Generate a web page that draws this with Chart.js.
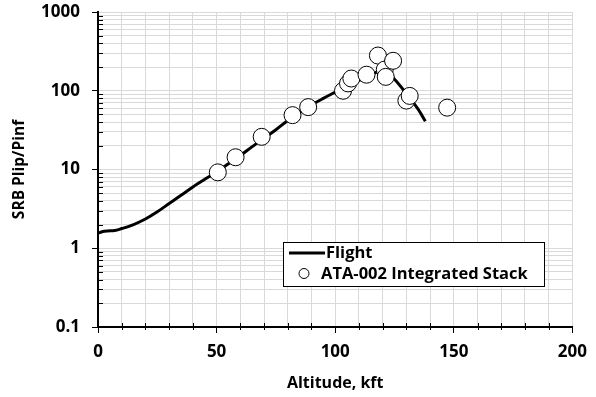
<!DOCTYPE html>
<html>
<head>
<meta charset="utf-8">
<script src="https://cdn.jsdelivr.net/npm/chart.js@4"></script>
<style>
  html, body { margin: 0; padding: 0; background: #fff; }
  #wrap { width: 596px; height: 397px; }
</style>
</head>
<body>
<div id="wrap"><canvas id="plipChart" width="596" height="397"></canvas></div>
<script>
// flight trace
const flightAlt = [0, 2, 4, 7, 10, 15, 20, 25, 30, 35, 40, 45, 50, 55, 60, 65, 70, 75, 80, 85, 90, 95, 100, 105, 110, 115, 118, 120, 122, 125, 130, 135, 138];
const flightPlip = [1.55, 1.63, 1.66, 1.68, 1.78, 2.0, 2.35, 2.9, 3.7, 4.7, 6.0, 7.5, 9.3, 11.8, 15, 19.5, 25, 32, 42, 53, 66, 80, 96, 115, 135, 158, 175, 180, 170, 140, 92, 58, 41];

// ATA-002 integrated stack test points
const ataAlt = [50.5, 58, 69, 82, 88.6, 103.3, 105.4, 106.8, 113.2, 118, 120.9, 121.3, 124.4, 130, 131.4, 147.2];
const ataPlip = [9.2, 14.3, 26, 49, 62, 100, 124, 143, 160, 280, 186, 150, 240, 75, 86, 61];

const yTickValues = [];
[0.1, 1, 10, 100].forEach((decade) => {
  for (let m = 1; m < 10; m++) yTickValues.push(+(decade * m).toPrecision(3));
});
yTickValues.push(1000);

const FONT = '"Open Sans", sans-serif';

function isDecade(v) {
  const l = Math.log10(v);
  return Math.abs(l - Math.round(l)) < 1e-6;
}

const minorTicks = {
  id: 'minorTicks',
  afterDatasetsDraw(chart) {
    const { ctx, chartArea, scales } = chart;
    ctx.save();
    ctx.strokeStyle = '#000';
    ctx.lineWidth = 1;
    yTickValues.forEach((v) => {
      if (isDecade(v)) return;
      const y = Math.round(scales.y.getPixelForValue(v)) + 0.5;
      ctx.beginPath();
      ctx.moveTo(chartArea.left, y);
      ctx.lineTo(chartArea.left + 5, y);
      ctx.stroke();
    });
    for (let a = 10; a < 200; a += 10) {
      if (a % 50 === 0) continue;
      const x = Math.round(scales.x.getPixelForValue(a)) + 0.5;
      ctx.beginPath();
      ctx.moveTo(x, chartArea.bottom - 4);
      ctx.lineTo(x, chartArea.bottom + 3);
      ctx.stroke();
    }
    ctx.restore();
  },
};

const boxLegend = {
  id: 'boxLegend',
  afterDraw(chart) {
    const ctx = chart.ctx;
    ctx.save();
    ctx.fillStyle = '#fff';
    ctx.fillRect(283, 242, 261, 44);
    ctx.strokeStyle = '#000';
    ctx.lineWidth = 1;
    ctx.strokeRect(283.5, 242.5, 261, 44);

    ctx.lineWidth = 3;
    ctx.beginPath();
    ctx.moveTo(289, 253);
    ctx.lineTo(325, 253);
    ctx.stroke();

    ctx.lineWidth = 1;
    ctx.beginPath();
    ctx.arc(304, 273.5, 5, 0, Math.PI * 2);
    ctx.stroke();

    ctx.fillStyle = '#000';
    ctx.font = `bold 16.5px ${FONT}`;
    ctx.textBaseline = 'middle';
    ctx.fillText('Flight', 326, 253);
    ctx.fillText('ATA-002 Integrated Stack', 321, 274);
    ctx.restore();
  },
};

function renderChart() {
  const ctx = document.getElementById('plipChart');
  new Chart(ctx, {
    data: {
      datasets: [
        {
          type: 'line',
          label: 'Flight',
          data: flightAlt.map((a, i) => ({ x: a, y: flightPlip[i] })),
          borderColor: '#000',
          borderWidth: 3,
          pointRadius: 0,
          tension: 0.4,
          cubicInterpolationMode: 'monotone',
          order: 2,
        },
        {
          type: 'scatter',
          label: 'ATA-002 Integrated Stack',
          data: ataAlt.map((a, i) => ({ x: a, y: ataPlip[i] })),
          backgroundColor: '#fff',
          borderColor: '#000',
          borderWidth: 1,
          pointRadius: 8.5,
          order: 1,
        },
      ],
    },
    options: {
      responsive: false,
      animation: false,
      layout: { padding: { top: 12, right: 23, left: 0, bottom: 0 } },
      plugins: { legend: { display: false }, tooltip: { enabled: false } },
      scales: {
        x: {
          type: 'linear',
          min: 0,
          max: 200,
          afterBuildTicks: (scale) => {
            scale.ticks = [];
            for (let a = 0; a <= 200; a += 10) scale.ticks.push({ value: a });
          },
          afterFit: (scale) => { scale.height = 70; },
          ticks: {
            autoSkip: false,
            maxRotation: 0,
            padding: 9,
            color: '#000',
            font: { family: FONT, size: 17, weight: 'bold' },
            callback: (v) => (v % 50 === 0 ? String(v) : ''),
          },
          grid: {
            color: (c) => (c.tick && c.tick.value === 0 ? 'rgba(0,0,0,0)' : '#d9d9d9'),
            tickColor: (c) => (c.tick && c.tick.value % 50 === 0 ? '#000' : 'rgba(0,0,0,0)'),
            tickLength: 6,
            lineWidth: 1,
          },
          border: { color: '#000', width: 2 },
          title: {
            display: true,
            text: 'Altitude, kft',
            color: '#000',
            font: { family: FONT, size: 16, weight: 'bold' },
            padding: { top: 0 },
          },
        },
        y: {
          type: 'logarithmic',
          min: 0.1,
          max: 1000,
          afterBuildTicks: (scale) => {
            scale.ticks = yTickValues.map((v) => ({ value: v }));
          },
          afterFit: (scale) => {
            scale.width = 98;
            scale.paddingTop = 0;
            scale.paddingBottom = 0;
          },
          ticks: {
            autoSkip: false,
            padding: 12,
            color: '#000',
            font: { family: FONT, size: 17, weight: 'bold' },
            callback: (v) => (isDecade(v) ? String(+v.toPrecision(3)) : ''),
          },
          grid: {
            color: '#d9d9d9',
            tickColor: (c) => (c.tick && isDecade(c.tick.value) ? '#000' : 'rgba(0,0,0,0)'),
            tickLength: 6,
            lineWidth: 1,
          },
          border: { color: '#000', width: 2 },
          title: {
            display: true,
            text: 'SRB Plip/Pinf',
            color: '#000',
            font: { family: FONT, size: 15.5, weight: 'bold' },
            padding: { top: 10, bottom: 0 },
          },
        },
      },
    },
    plugins: [minorTicks, boxLegend],
  });
}

document.addEventListener('DOMContentLoaded', renderChart);
</script>
</body>
</html>
